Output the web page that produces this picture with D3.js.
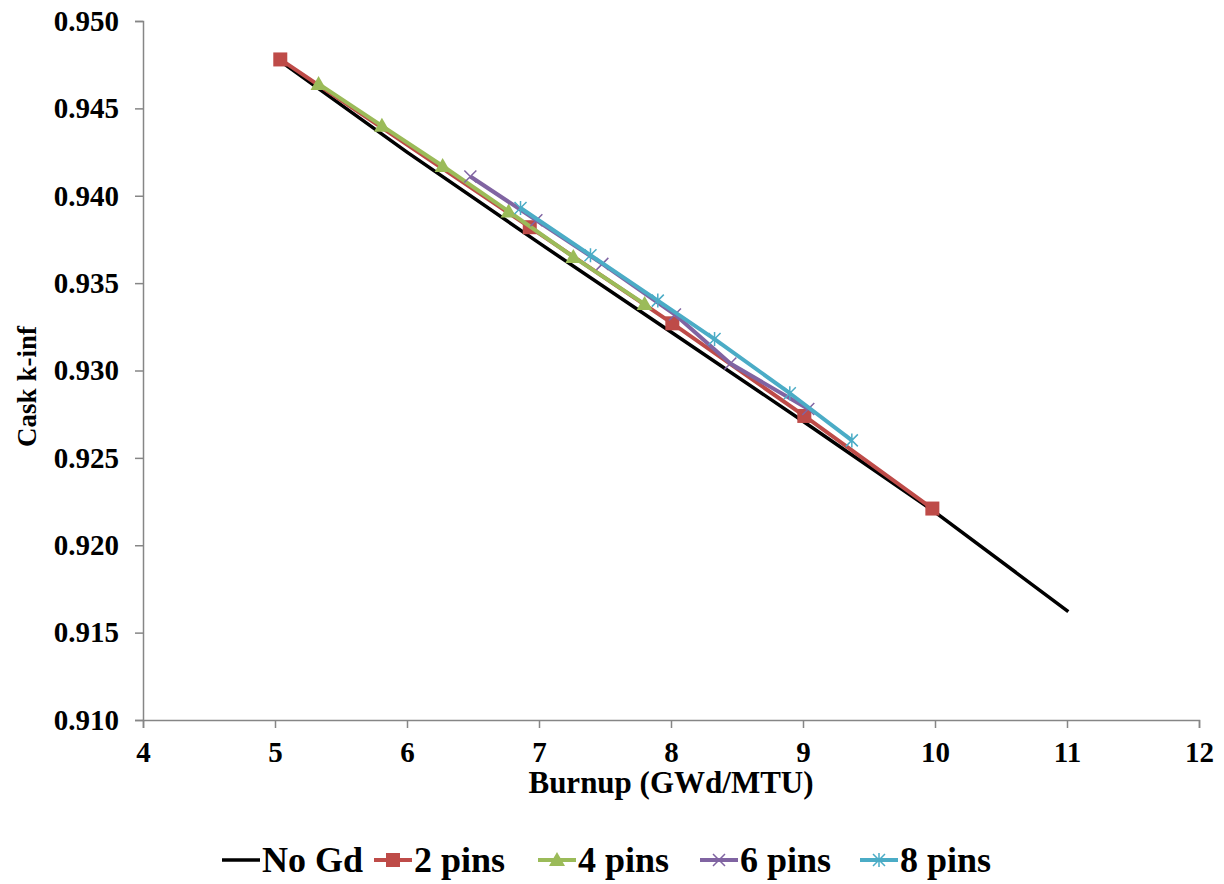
<!DOCTYPE html>
<html>
<head>
<meta charset="utf-8">
<script src="https://cdn.jsdelivr.net/npm/d3@7"></script>
<style>
  body { margin: 0; background: #fff; }
</style>
</head>
<body>
<div id="chart"></div>
<script>
// burnup (GWd/MTU) and cask k-inf for each case
var noGdX = [5.04, 6.0, 7.0, 8.0, 9.0, 10.0, 11.01];
var noGdY = [0.9477, 0.9425, 0.9373, 0.9322, 0.9271, 0.9219, 0.9162];

var pins2X = [5.04, 6.93, 8.01, 9.01, 9.98];
var pins2Y = [0.9478, 0.9382, 0.9327, 0.9274, 0.9221];

var pins4X = [5.33, 5.81, 6.27, 6.77, 7.26, 7.80];
var pins4Y = [0.9464, 0.9440, 0.9417, 0.9391, 0.9365, 0.9338];

var pins6X = [6.48, 6.98, 7.48, 8.03, 8.45, 9.04];
var pins6Y = [0.9411, 0.9386, 0.9361, 0.9332, 0.9304, 0.9278];

var pins8X = [6.86, 7.39, 7.90, 8.33, 8.90, 9.37];
var pins8Y = [0.9393, 0.9366, 0.9340, 0.9318, 0.9287, 0.9260];

var xTicks = [4, 5, 6, 7, 8, 9, 10, 11, 12];
var yTicks = [0.910, 0.915, 0.920, 0.925, 0.930, 0.935, 0.940, 0.945, 0.950];

var series = [
  { name: "No Gd", xs: noGdX, ys: noGdY, color: "#000000", marker: "none", width: 3.5 },
  { name: "2 pins", xs: pins2X, ys: pins2Y, color: "#BE4B48", marker: "square", width: 4 },
  { name: "4 pins", xs: pins4X, ys: pins4Y, color: "#9BBB59", marker: "triangle", width: 4 },
  { name: "6 pins", xs: pins6X, ys: pins6Y, color: "#8064A2", marker: "x", width: 4 },
  { name: "8 pins", xs: pins8X, ys: pins8Y, color: "#4BACC6", marker: "star", width: 4 }
];

var FONT = "'Liberation Serif', 'Times New Roman', 'DejaVu Serif', serif";

var width = 1224, height = 884;
var margin = { left: 143, right: 25, top: 21, bottom: 164 };

var svg = d3.select("#chart")
  .append("svg")
  .attr("width", width)
  .attr("height", height)
  .style("font-family", FONT);

var x = d3.scaleLinear().domain([4, 12]).range([margin.left, width - margin.right]);
var y = d3.scaleLinear().domain([0.910, 0.950]).range([height - margin.bottom, margin.top]);

function boldText(sel, size) {
  return sel.style("font-family", FONT)
    .style("font-weight", "bold")
    .style("font-size", size + "px")
    .attr("fill", "#000");
}

// axes
var xAxis = svg.append("g")
  .attr("transform", "translate(0," + y(0.910) + ")")
  .call(d3.axisBottom(x).tickValues(xTicks).tickFormat(d3.format("d")).tickSize(8).tickPadding(13));
var yAxis = svg.append("g")
  .attr("transform", "translate(" + x(4) + ",0)")
  .call(d3.axisLeft(y).tickValues(yTicks).tickFormat(d3.format(".3f")).tickSize(8).tickPadding(16));

[xAxis, yAxis].forEach(function (a) {
  a.attr("font-family", null).attr("font-size", null);
  a.select(".domain").attr("stroke", "#868686").attr("stroke-width", 1.5);
  a.selectAll(".tick line").attr("stroke", "#868686").attr("stroke-width", 1.5);
  boldText(a.selectAll(".tick text"), 29);
});

boldText(svg.append("text"), 31)
  .attr("x", (x(4) + x(12)) / 2)
  .attr("y", 793)
  .attr("text-anchor", "middle")
  .text("Burnup (GWd/MTU)");

boldText(svg.append("text"), 27)
  .attr("transform", "translate(36," + (y(0.930) + 16) + ") rotate(-90)")
  .attr("text-anchor", "middle")
  .text("Cask k-inf");

function drawMarker(g, type, color, cx, cy) {
  if (type === "square") {
    g.append("rect")
      .attr("x", cx - 7).attr("y", cy - 7)
      .attr("width", 14).attr("height", 14)
      .attr("fill", color);
  } else if (type === "triangle") {
    g.append("path")
      .attr("d", "M" + cx + "," + (cy - 8) + "L" + (cx + 8) + "," + (cy + 6) + "L" + (cx - 8) + "," + (cy + 6) + "Z")
      .attr("fill", color);
  } else if (type === "x" || type === "star") {
    var s = 6;
    var d = "M" + (cx - s) + "," + (cy - s) + "L" + (cx + s) + "," + (cy + s) +
            "M" + (cx - s) + "," + (cy + s) + "L" + (cx + s) + "," + (cy - s);
    if (type === "star") d += "M" + cx + "," + (cy - s - 1) + "L" + cx + "," + (cy + s + 1);
    g.append("path")
      .attr("d", d)
      .attr("stroke", color)
      .attr("stroke-width", 1.5)
      .attr("fill", "none");
  }
}

var line = d3.line()
  .x(function (d) { return x(d[0]); })
  .y(function (d) { return y(d[1]); });

series.forEach(function (s) {
  var pts = s.xs.map(function (v, i) { return [v, s.ys[i]]; });
  var g = svg.append("g");
  g.append("path")
    .datum(pts)
    .attr("d", line)
    .attr("fill", "none")
    .attr("stroke", s.color)
    .attr("stroke-width", s.width)
    .attr("stroke-linejoin", "round");
  pts.forEach(function (p) {
    drawMarker(g, s.marker, s.color, x(p[0]), y(p[1]));
  });
});

// legend
var legendX = [222, 374, 538, 700, 860];
var legend = svg.append("g");
series.forEach(function (s, i) {
  var lx = legendX[i], ly = 860;
  var g = legend.append("g");
  g.append("line")
    .attr("x1", lx).attr("x2", lx + 38)
    .attr("y1", ly).attr("y2", ly)
    .attr("stroke", s.color)
    .attr("stroke-width", s.width);
  drawMarker(g, s.marker, s.color, lx + 19, ly);
  boldText(g.append("text"), 36)
    .attr("x", lx + 40)
    .attr("y", ly + 12)
    .text(s.name);
});
</script>
</body>
</html>
